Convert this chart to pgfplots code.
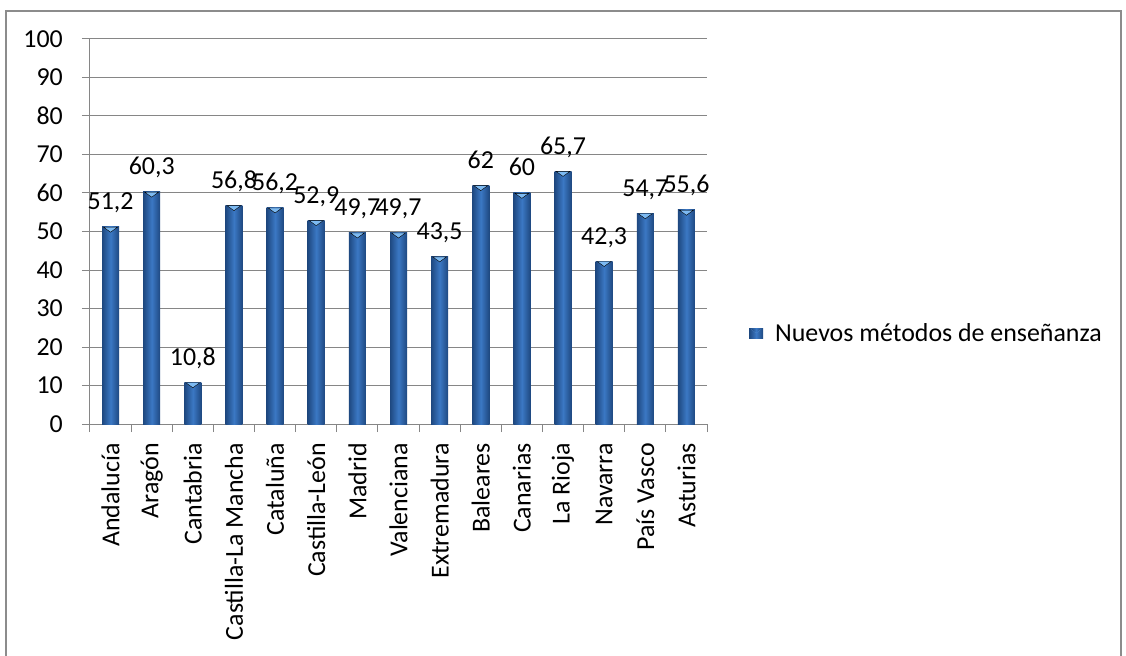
\documentclass[border=0pt]{standalone}
\usepackage{fontspec}
\setmainfont{Carlito}
\usepackage{pgfplots}
\pgfplotsset{compat=1.18}
\definecolor{bardark}{HTML}{1E4880}
\definecolor{barmid}{HTML}{3B78C4}
\definecolor{tri}{HTML}{7DBAF2}
\definecolor{gridc}{HTML}{868686}
\definecolor{framec}{HTML}{8C8C8C}
\pgfplotsset{
  mybar/.style={ybar, bar width=17bp, bar shift=0pt, draw=none,
    left color=bardark, right color=bardark, middle color=barmid,
    nodes near coords,
    every node near coord/.append style={anchor=base, inner sep=0pt, yshift=17bp, text=black}},
}
\begin{document}
\begin{tikzpicture}[font=\fontsize{26}{31}\selectfont]
\useasboundingbox (-90bp,-232bp) rectangle (1036bp,424bp);
\draw[framec, line width=1.8bp] (-84bp,-260bp) rectangle (1031bp,413bp);
\begin{axis}[
  at={(0,0)}, anchor=south west,
  scale only axis, width=617bp, height=385bp,
  xmin=-0.5, xmax=14.5, ymin=0, ymax=100,
  ytick={0,10,...,100},
  xtick={-0.5,0.5,...,14.5},
  xticklabels={},
  extra x ticks={0,1,...,14},
  extra x tick labels={Andalucía,Aragón,Cantabria,Castilla-La Mancha,Cataluña,Castilla-León,Madrid,Valenciana,Extremadura,Baleares,Canarias,La Rioja,Navarra,País Vasco,Asturias},
  extra x tick style={major tick length=0pt, tick style={draw=none},
     xticklabel style={yshift=-19bp, rotate=90, anchor=east, inner sep=0pt}},
  axis x line*=bottom, axis y line*=left,
  axis line style={gridc, line width=1bp, -},
  ymajorgrids, major grid style={gridc, line width=1bp},
  tick align=outside, major tick length=8bp,
  tick style={gridc, line width=1bp},
  yticklabel style={inner sep=0pt, xshift=-19bp},
  /pgf/number format/use comma,
  /pgf/number format/assume math mode=true,
  legend style={at={(1.068,0.236)}, anchor=west, draw=none, fill=none,
     inner sep=0pt, nodes={inner sep=0pt, text=black}},
  legend cell align=left,
]
\addplot[mybar,
  legend image code/.code={
    \fill[left color=bardark, right color=bardark, middle color=barmid] (0bp,-5bp) rectangle (14bp,5bp);
    \fill[tri] (2bp,4bp) -- (12bp,4bp) -- (7bp,0bp) -- cycle;
    \path (26bp,0bp);}
] coordinates {(0,51.2)};
\addlegendentry{Nuevos métodos de enseñanza}
\addplot[mybar, forget plot] coordinates {(1,60.3)};
\addplot[mybar, forget plot] coordinates {(2,10.8)};
\addplot[mybar, forget plot] coordinates {(3,56.8)};
\addplot[mybar, forget plot] coordinates {(4,56.2)};
\addplot[mybar, forget plot] coordinates {(5,52.9)};
\addplot[mybar, forget plot] coordinates {(6,49.7)};
\addplot[mybar, forget plot] coordinates {(7,49.7)};
\addplot[mybar, forget plot] coordinates {(8,43.5)};
\addplot[mybar, forget plot] coordinates {(9,62)};
\addplot[mybar, forget plot] coordinates {(10,60)};
\addplot[mybar, forget plot] coordinates {(11,65.7)};
\addplot[mybar, forget plot] coordinates {(12,42.3)};
\addplot[mybar, forget plot] coordinates {(13,54.7)};
\addplot[mybar, forget plot] coordinates {(14,55.6)};
\addplot[only marks, forget plot, mark=triangle*, mark size=8bp,
  mark options={yshift=-2bp, rotate=180, yscale=0.42, fill=tri, draw=none}] coordinates {
(0,51.2) (1,60.3) (2,10.8) (3,56.8) (4,56.2) (5,52.9) (6,49.7) (7,49.7)
(8,43.5) (9,62) (10,60) (11,65.7) (12,42.3) (13,54.7) (14,55.6)
};
\end{axis}
\end{tikzpicture}
\end{document}
